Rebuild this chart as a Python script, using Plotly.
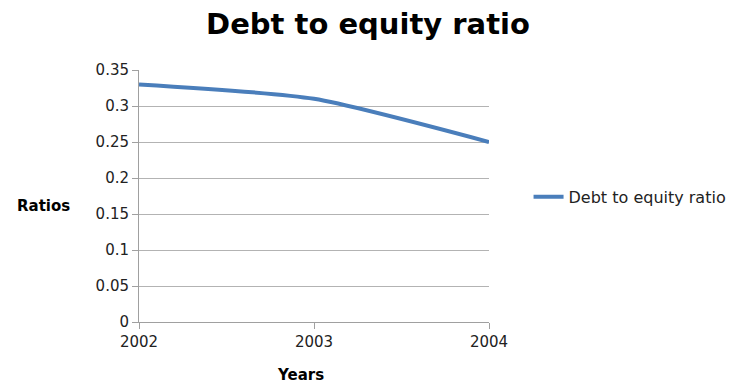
import plotly.graph_objects as go

years = [2002, 2003, 2004]
ratios = [0.33, 0.31, 0.25]
series_name = "Debt to equity ratio"
y_ticks = [0, 0.05, 0.1, 0.15, 0.2, 0.25, 0.3, 0.35]
y_tick_labels = ["0", "0.05", "0.1", "0.15", "0.2", "0.25", "0.3", "0.35"]

FONT = "DejaVu Sans"

fig = go.Figure()
fig.add_trace(go.Scatter(
    x=years, y=ratios, mode="lines", name=series_name,
    line=dict(color="#4a7ebb", width=4, shape="spline", smoothing=0.6),
))

fig.update_layout(
    width=736, height=392,
    margin=dict(l=139, r=247, t=70, b=70, autoexpand=False),
    paper_bgcolor="white", plot_bgcolor="white",
    font=dict(family=FONT, size=15, color="#222222"),
    title=dict(text="<b>Debt to equity ratio</b>", x=0.5, xanchor="center",
               y=0.938, yanchor="middle", font=dict(family=FONT, size=29, color="black")),
    showlegend=True,
    legend=dict(x=1.113, y=0.497, xanchor="left", yanchor="middle",
                font=dict(family=FONT, size=16, color="#222222"),
                bgcolor="rgba(0,0,0,0)"),
    xaxis=dict(range=[2002, 2004], tickvals=years, ticktext=[str(y) for y in years],
               showgrid=False, showline=True, linecolor="#a0a0a0", linewidth=1,
               ticks="outside", ticklen=6, tickcolor="#a0a0a0", zeroline=False,
               tickfont=dict(size=15)),
    yaxis=dict(range=[0, 0.35], tickvals=y_ticks, ticktext=y_tick_labels,
               showgrid=True, gridcolor="#b3b3b3", gridwidth=1,
               showline=True, linecolor="#a0a0a0", linewidth=1,
               ticks="outside", ticklen=6, tickcolor="#a0a0a0", zeroline=False,
               tickfont=dict(size=15)),
    annotations=[
        dict(text="<b>Ratios</b>", xref="paper", yref="paper", x=-0.353, y=0.46,
             xanchor="left", yanchor="middle", showarrow=False,
             font=dict(family=FONT, size=15, color="black")),
        dict(text="<b>Years</b>", xref="paper", yref="paper", x=0.46, y=-0.165,
             xanchor="center", yanchor="top", showarrow=False,
             font=dict(family=FONT, size=15, color="black")),
    ],
)

fig.write_html("out.html")
